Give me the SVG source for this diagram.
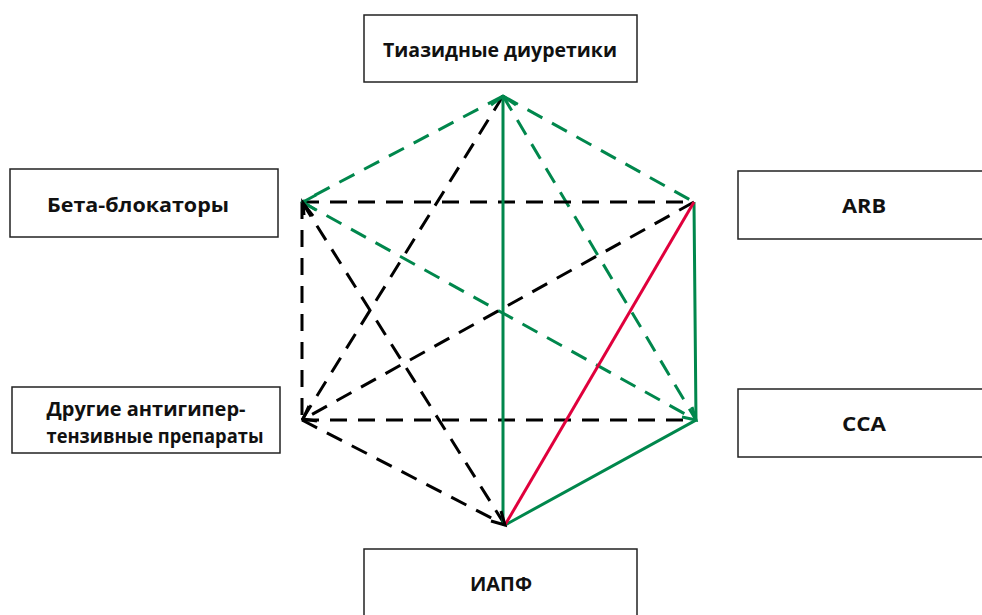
<svg xmlns="http://www.w3.org/2000/svg" width="982" height="615" viewBox="0 0 982 615">
<style>
.box{fill:#fff;stroke:#222;stroke-width:1.5}
.lbl{font-family:"Open Sans","Noto Sans","Liberation Sans",sans-serif;font-weight:700;font-size:19px;fill:#111;text-anchor:middle}
.gd{stroke:#00874c;stroke-width:3;fill:none;stroke-dasharray:17 11}
.kd{stroke:#000;stroke-width:3;fill:none;stroke-dasharray:17 11}
.gs{stroke:#00874c;stroke-width:3;fill:none}
.rs{stroke:#e0003c;stroke-width:3;fill:none}
.ga{stroke:#00874c;stroke-width:3;fill:none}
.ka{stroke:#000;stroke-width:3;fill:none}
</style>
<rect width="982" height="615" fill="#fff"/>
<g id="connectors">
<path class="gd" d="M503,96 L302,202"/>
<path class="gd" d="M503,96 L694,202"/>
<path class="gd" d="M503,96 L696,420"/>
<path class="gd" d="M302,202 L696,420"/>
<path class="kd" d="M302,202 L694,202"/>
<path class="kd" d="M302,420 L696,420"/>
<path class="kd" d="M302,202 L302,420"/>
<path class="kd" d="M503,96 L302,420"/>
<path class="kd" d="M302,202 L505,525"/>
<path class="kd" d="M694,202 L302,420"/>
<path class="kd" d="M302,420 L505,525"/>
<path class="gs" d="M503,525 L503,96"/>
<path class="gs" d="M694,202 L696,420 L505,525"/>
<path class="rs" d="M694,202 L505,525"/>
<path class="ga" d="M491,105 L503,96 L516,105"/>
<path class="ga" d="M316,195 L303,202 L316,210"/>
<path class="ka" d="M304,215 L303,203 L313,216"/>
<path class="ka" d="M309,406 L303,419 L317,421"/>
<path class="ka" d="M491,521 L505,525 L501,511"/>
<path class="ga" d="M682,417 L696,420 L692,407"/>
</g>
<g id="node-thiazide">
<rect class="box" x="364" y="15" width="273" height="67"/>
<text class="lbl" x="500" y="57" textLength="234" lengthAdjust="spacingAndGlyphs">Тиазидные диуретики</text>
</g>
<g id="node-beta">
<rect class="box" x="10" y="169" width="268" height="68"/>
<text class="lbl" x="138" y="212" textLength="182" lengthAdjust="spacingAndGlyphs">Бета-блокаторы</text>
</g>
<g id="node-arb">
<rect class="box" x="738" y="171" width="250" height="68"/>
<text class="lbl" x="864" y="213" textLength="44" lengthAdjust="spacingAndGlyphs">ARB</text>
</g>
<g id="node-other">
<rect class="box" x="12" y="387" width="268" height="66"/>
<text class="lbl" x="146" y="416" textLength="199" lengthAdjust="spacingAndGlyphs">Другие антигипер-</text>
<text class="lbl" x="155" y="443" textLength="217" lengthAdjust="spacingAndGlyphs">тензивные препараты</text>
</g>
<g id="node-cca">
<rect class="box" x="738" y="389" width="250" height="68"/>
<text class="lbl" x="864" y="431" textLength="44" lengthAdjust="spacingAndGlyphs">CCA</text>
</g>
<g id="node-iapf">
<rect class="box" x="364" y="549" width="273" height="70"/>
<text class="lbl" x="501" y="591" textLength="62" lengthAdjust="spacingAndGlyphs">ИАПФ</text>
</g>
</svg>
